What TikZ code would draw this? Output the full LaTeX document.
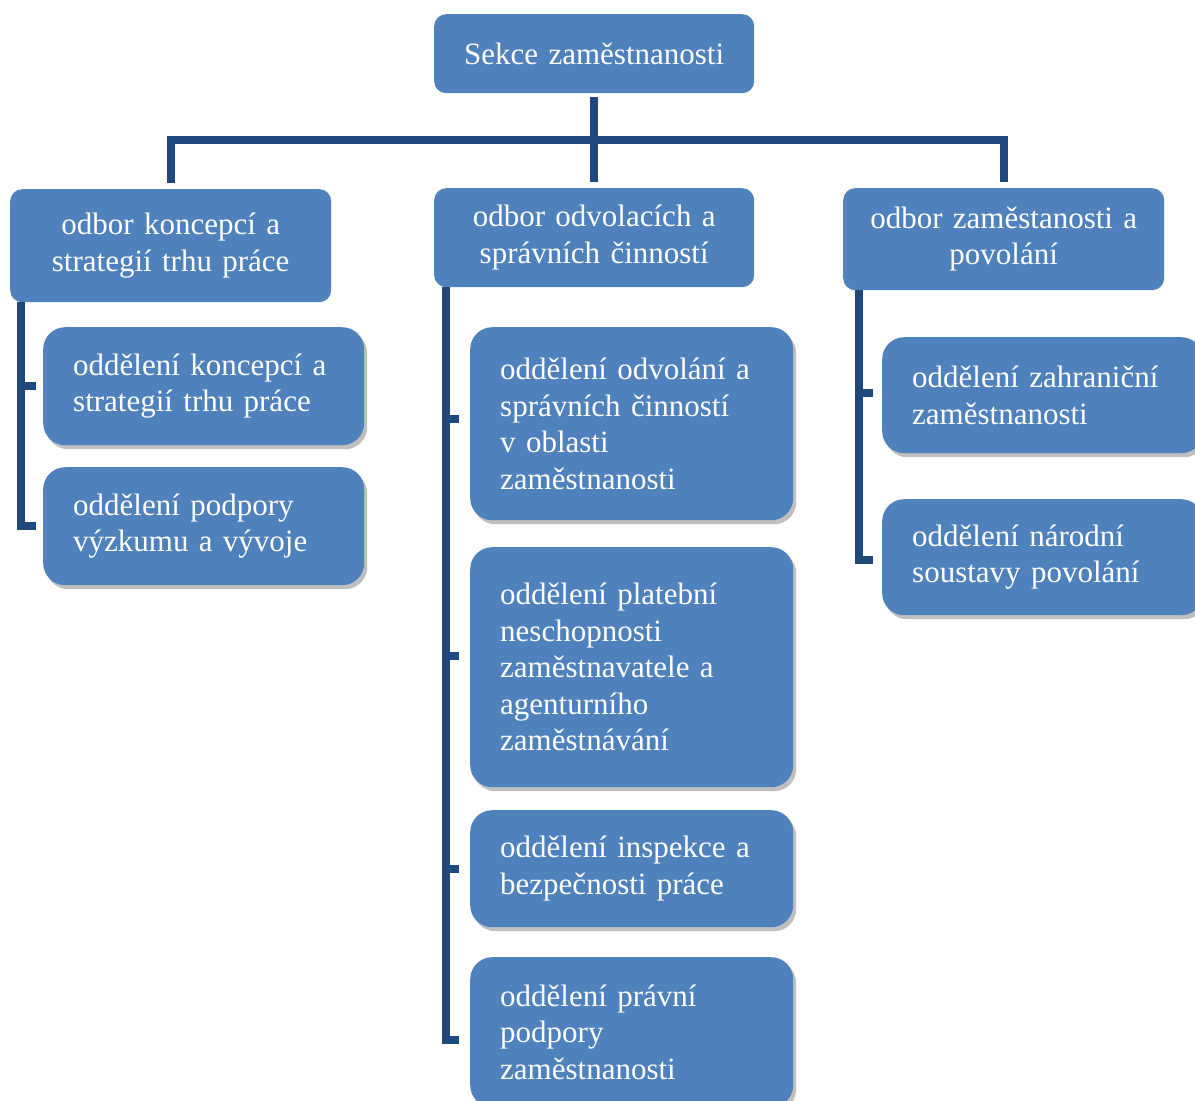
\documentclass[tikz,border=0pt]{standalone}
\usepackage{fontspec}
\setmainfont{Liberation Serif}[WordSpace=0.6]
\usetikzlibrary{shadows}
\definecolor{boxblue}{HTML}{4F81BD}
\definecolor{linkblue}{HTML}{1F497D}
\begin{document}
\begin{tikzpicture}[x=1pt,y=-1pt,
  base/.style={rounded corners=12pt, fill=boxblue, text=white,
    font=\fontsize{31}{36.5}\selectfont, inner ysep=0pt, anchor=north west},
  headbox/.style={base, align=center, inner xsep=8pt},
  unitbox/.style={base, rounded corners=22pt, align=left, inner xsep=30pt,
    drop shadow={shadow xshift=3pt, shadow yshift=-4pt, fill=black, opacity=0.25}},
  conn/.style={draw=linkblue, line width=8pt, line join=miter}]
\path[use as bounding box, clip] (0,0) rectangle (1195,1101);
\fill[white] (0,0) rectangle (1195,1101);

% top
\node[headbox, text width=304pt, minimum height=79pt] (top) at (434,14) {Sekce zaměstnanosti};
% level 2
\node[headbox, text width=305pt, minimum height=113pt] (L) at (10,189) {odbor koncepcí a\\strategií trhu práce};
\node[headbox, text width=304pt, minimum height=99pt] (M) at (434,188) {odbor odvolacích a\\správních činností};
\node[headbox, text width=305pt, minimum height=102pt] (R) at (843,188) {odbor zaměstanosti a\\povolání};
% left children
\node[unitbox, text width=261pt, minimum height=118pt] (L1) at (43,327) {oddělení koncepcí a\\strategií trhu práce};
\node[unitbox, text width=261pt, minimum height=118pt] (L2) at (43,467) {oddělení podpory\\výzkumu a vývoje};
% middle children
\node[unitbox, text width=263pt, minimum height=193pt] (M1) at (470,327) {oddělení odvolání a\\správních činností\\v oblasti\\zaměstnanosti};
\node[unitbox, text width=263pt, minimum height=240pt] (M2) at (470,547) {oddělení platební\\neschopnosti\\zaměstnavatele a\\agenturního\\zaměstnávání};
\node[unitbox, text width=263pt, minimum height=117pt] (M3) at (470,810) {oddělení inspekce a\\bezpečnosti práce};
\node[unitbox, text width=263pt, minimum height=150pt] (M4) at (470,957) {oddělení právní\\podpory\\zaměstnanosti};
% right children
\node[unitbox, text width=261pt, minimum height=116pt] (R1) at (882,337) {oddělení zahraniční\\zaměstnanosti};
\node[unitbox, text width=261pt, minimum height=116pt] (R2) at (882,499) {oddělení národní\\soustavy povolání};

% connectors top level
\coordinate (bus) at (593,140);
\draw[conn, shorten <=4pt, shorten >=6pt] (top.south) -- (M.north);
\draw[conn, shorten <=6pt, shorten >=6pt] (L.north) -- (L.north |- bus) -- (R.north |- bus) -- (R.north);

% left bar
\coordinate (Lbar) at (21,0);
\draw[conn] (L.south -| Lbar) |- ([xshift=-7pt]L2.west);
\draw[conn] (L1.west -| Lbar) -- ([xshift=-7pt]L1.west);

% middle bar
\coordinate (Mbar) at (446,0);
\draw[conn] (M.south -| Mbar) |- ([xshift=-11pt,yshift=-8pt]M4.west);
\draw[conn] ([yshift=5pt]M1.west -| Mbar) -- ([xshift=-11pt,yshift=5pt]M1.west);
\draw[conn] ([yshift=11pt]M2.west -| Mbar) -- ([xshift=-11pt,yshift=11pt]M2.west);
\draw[conn] (M3.west -| Mbar) -- ([xshift=-11pt]M3.west);

% right bar
\coordinate (Rbar) at (859,0);
\draw[conn] (R.south -| Rbar) |- ([xshift=-9pt,yshift=-3pt]R2.west);
\draw[conn] ([yshift=2pt]R1.west -| Rbar) -- ([xshift=-9pt,yshift=2pt]R1.west);
\end{tikzpicture}
\end{document}
